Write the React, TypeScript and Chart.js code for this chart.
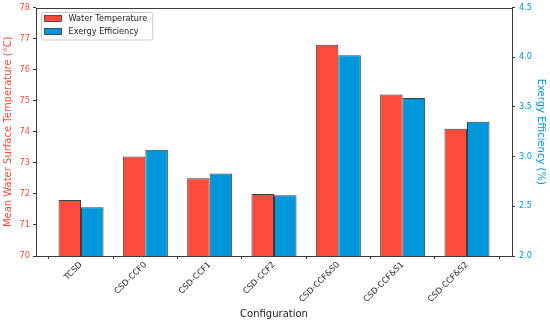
import React, { useEffect, useRef } from "react";
import { Chart, registerables } from "chart.js";

Chart.register(...registerables);

const categories = ["TCSD", "CSD-CCF0", "CSD-CCF1", "CSD-CCF2", "CSD-CCF&S0", "CSD-CCF&S1", "CSD-CCF&S2"];
const waterTemperature = [71.8, 73.2, 72.5, 72.0, 76.8, 75.2, 74.1];
const exergyEfficiency = [2.49, 3.07, 2.83, 2.61, 4.02, 3.59, 3.35];
const leftTicks = [70, 71, 72, 73, 74, 75, 76, 77, 78];
const rightTicks = [2.0, 2.5, 3.0, 3.5, 4.0, 4.5];

const RED = "#ff4b3c";
const BLUE = "#0096db";
const FONT = "'DejaVu Sans', sans-serif";

const framePlugin = {
  id: "frame",
  afterDatasetsDraw(chart: any) {
    const { ctx, chartArea } = chart;
    ctx.save();
    ctx.strokeStyle = "#3a3a3a";
    ctx.lineWidth = 1;
    ctx.strokeRect(
      Math.round(chartArea.left) + 0.5,
      Math.round(chartArea.top) + 0.5,
      Math.round(chartArea.right) - Math.round(chartArea.left),
      Math.round(chartArea.bottom) - Math.round(chartArea.top)
    );
    ctx.restore();
  },
};

const legendPlugin = {
  id: "boxLegend",
  afterDraw(chart: any) {
    const { ctx, chartArea } = chart;
    const x0 = chartArea.left + 5;
    const y0 = chartArea.top + 4.5;
    ctx.save();
    ctx.font = `8.2px ${FONT}`;
    const items = chart.data.datasets.map((d: any) => ({ label: d.label, color: d.backgroundColor }));
    let maxW = 0;
    items.forEach((it: any) => {
      maxW = Math.max(maxW, ctx.measureText(it.label).width);
    });
    const w = 27.5 + maxW + 5;
    const h = 27.5;
    ctx.beginPath();
    (ctx as any).roundRect(x0 + 0.5, y0 + 0.5, w, h, 2);
    ctx.fillStyle = "rgba(255,255,255,0.85)";
    ctx.fill();
    ctx.strokeStyle = "#cccccc";
    ctx.lineWidth = 1;
    ctx.stroke();
    items.forEach((it: any, i: number) => {
      const cy = y0 + 6.5 + i * 13;
      ctx.fillStyle = it.color;
      ctx.fillRect(x0 + 3.5, cy - 3, 17, 6);
      ctx.strokeStyle = "#333";
      ctx.lineWidth = 0.8;
      ctx.strokeRect(x0 + 3.5, cy - 3, 17, 6);
      ctx.fillStyle = "#222";
      ctx.textBaseline = "middle";
      ctx.textAlign = "left";
      ctx.fillText(it.label, x0 + 27.5, cy + 0.5);
    });
    ctx.restore();
  },
};

export default function App() {
  const ref = useRef<HTMLCanvasElement | null>(null);

  useEffect(() => {
    document.body.style.margin = "0";
    if (!ref.current) return;
    const chart = new Chart(ref.current, {
      type: "bar",
      data: {
        datasets: [
          {
            label: "Water Temperature",
            data: waterTemperature.map((v, i) => ({ x: i, y: v })),
            backgroundColor: RED,
            borderColor: "#3c3c3c",
            borderWidth: 1,
            borderSkipped: false,
            inflateAmount: 0,
            yAxisID: "yL",
            categoryPercentage: 0.7,
            barPercentage: 1.0,
          },
          {
            label: "Exergy Efficiency",
            data: exergyEfficiency.map((v, i) => ({ x: i, y: v })),
            backgroundColor: BLUE,
            borderColor: "#3c3c3c",
            borderWidth: 1,
            borderSkipped: false,
            inflateAmount: 0,
            yAxisID: "yR",
            categoryPercentage: 0.7,
            barPercentage: 1.0,
          },
        ],
      } as any,
      options: {
        animation: false,
        responsive: false,
        devicePixelRatio: 1,
        layout: { padding: { top: 7.5, left: 0, right: 0, bottom: 0 } },
        plugins: { legend: { display: false }, tooltip: { enabled: false } },
        scales: {
          x: {
            type: "linear",
            min: -0.7,
            max: 6.7,
            offset: false,
            afterBuildTicks: (scale: any) => {
              scale.ticks = categories.map((_, i) => ({ value: i }));
            },
            afterFit: (scale: any) => {
              scale.height = 69;
            },
            ticks: {
              autoSkip: false,
              minRotation: 45,
              maxRotation: 45,
              padding: 1,
              color: "#222",
              font: { family: FONT, size: 8.2 },
              callback: (v: any) => categories[v] ?? "",
            },
            grid: { display: true, drawOnChartArea: false, drawTicks: true, tickLength: 3, color: "#333" },
            border: { display: false },
            title: {
              display: true,
              text: "Configuration",
              color: "#222",
              font: { family: FONT, size: 10 },
              padding: { top: 0, bottom: 5 },
            },
          },
          yL: {
            type: "linear",
            position: "left",
            min: 70,
            max: 78,
            afterBuildTicks: (scale: any) => {
              scale.ticks = leftTicks.map((v) => ({ value: v }));
            },
            afterFit: (scale: any) => {
              scale.width = 36;
              scale.paddingTop = 0;
              scale.paddingBottom = 0;
            },
            ticks: {
              color: RED,
              padding: 3,
              font: { family: FONT, size: 8.2 },
              callback: (v: any) => String(v),
            },
            grid: { display: true, drawOnChartArea: false, drawTicks: true, tickLength: 3, color: "#333" },
            border: { display: false },
            title: {
              display: true,
              text: "Mean Water Surface Temperature (°C)",
              color: RED,
              font: { family: FONT, size: 10 },
              padding: { top: 2.5, bottom: 0 },
            },
          },
          yR: {
            type: "linear",
            position: "right",
            min: 2.0,
            max: 4.5,
            afterBuildTicks: (scale: any) => {
              scale.ticks = rightTicks.map((v) => ({ value: v }));
            },
            afterFit: (scale: any) => {
              scale.width = 38;
              scale.paddingTop = 0;
              scale.paddingBottom = 0;
            },
            ticks: {
              color: BLUE,
              padding: 4,
              font: { family: FONT, size: 8.2 },
              callback: (v: any) => Number(v).toFixed(1),
            },
            grid: { display: true, drawOnChartArea: false, drawTicks: true, tickLength: 3, color: "#333" },
            border: { display: false },
            title: {
              display: true,
              text: "Exergy Efficiency (%)",
              color: BLUE,
              font: { family: FONT, size: 10 },
              padding: { top: 3, bottom: 0 },
            },
          },
        },
      } as any,
      plugins: [framePlugin, legendPlugin],
    });
    return () => chart.destroy();
  }, []);

  return (
    <div style={{ width: 550, height: 325 }}>
      <canvas ref={ref} width={550} height={325} style={{ display: "block" }} />
    </div>
  );
}
